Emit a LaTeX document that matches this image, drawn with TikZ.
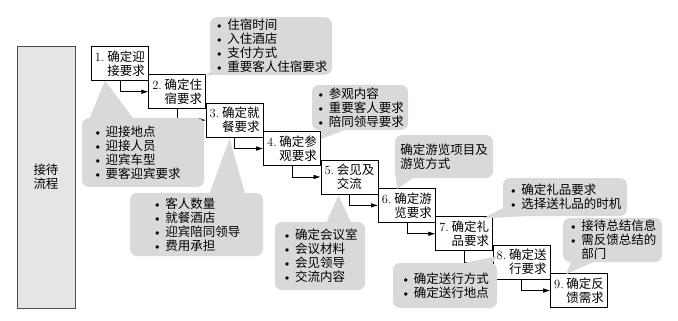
\documentclass[tikz,border=0pt]{standalone}
\usepackage{fontspec}
\newfontfamily\cjk{Noto Sans CJK SC}
\usetikzlibrary{arrows.meta,calc}
\definecolor{callgray}{gray}{0.85}
\definecolor{flowgray}{gray}{0.9}
\newcommand\dotitem{{\rmfamily\textbullet}\hspace{3pt}}
\tikzset{
    stepbox/.style={draw, fill=white, line width=0.7pt, minimum width=57pt, minimum height=34pt,
        inner sep=1pt, anchor=north west, font=\cjk\fontsize{12.5}{14}\selectfont},
    callbox/.style={fill=callgray, rounded corners=7pt, align=left, inner sep=2pt,
        font=\cjk\fontsize{12.5}{14}\selectfont},
    flowbox/.style={draw=black!70, fill=flowgray, line width=0.7pt, align=center,
        font=\cjk\fontsize{12.5}{14}\selectfont},
    steparrow/.style={-{Latex[length=7pt,width=4.5pt]}, line width=0.6pt},
}
\begin{document}
\begin{tikzpicture}[x=1pt,y=-1pt]
                    \useasboundingbox (0,0) rectangle (678,321);
                    \node[flowbox, minimum width=58pt, minimum height=262pt] (flow) at (46,177) {接待\\流程};
                    \foreach \i/\al/\la/\lb in {1/right/确定迎/接要求, 2/right/确定住/宿要求, 3/right/确定就/餐要求,
                        4/right/确定参/观要求, 5/center/会见及/交流, 6/right/确定游/览要求,
                        7/right/确定礼/品要求, 8/right/确定送/行要求, 9/right/确定反/馈需求}{
                        \node[stepbox, align/.expanded=\al] (s\i) at ({91+(\i-1)*57.4},{46+(\i-1)*28.4}) {\textrm{\i.}\ \la\\\lb};
                    }
                    \foreach \i [evaluate=\i as \j using int(\i+1)] in {1,...,8}{
                        \draw[steparrow] (s\i.south) |- (s\j.west);
                    }
                    \node[callbox, minimum width=122pt, minimum height=69pt, text width=100pt] (c1) at (143,152.5)
                        {\dotitem 迎接地点\\\dotitem 迎接人员\\\dotitem 迎宾车型\\\dotitem 要客迎宾要求};
                    \node[callbox, minimum width=122pt, minimum height=54pt] (c2) at (271,46)
                        {\dotitem 住宿时间\\\dotitem 入住酒店\\\dotitem 支付方式\\\dotitem 重要客人住宿要求};
                    \node[callbox, minimum width=133pt, minimum height=63pt] (c3) at (196.5,224.5)
                        {\dotitem 客人数量\\\dotitem 就餐酒店\\\dotitem 迎宾陪同领导\\\dotitem 费用承担};
                    \node[callbox, minimum width=96pt, minimum height=45pt] (c4) at (360,107.5)
                        {\dotitem 参观内容\\\dotitem 重要客人要求\\\dotitem 陪同领导要求};
                    \node[callbox, minimum width=90pt, minimum height=68pt] (c5) at (320,256)
                        {\dotitem 确定会议室\\\dotitem 会议材料\\\dotitem 会见领导\\\dotitem 交流内容};
                    \node[callbox, minimum width=98pt, minimum height=43pt] (c6) at (444,156.5)
                        {确定游览项目及\\游览方式};
                    \node[callbox, minimum width=124pt, minimum height=38pt] (c7) at (565,197)
                        {\dotitem 确定礼品要求\\\dotitem 选择送礼品的时机};
                    \node[callbox, minimum width=104pt, minimum height=45pt] (c8) at (445,285.5)
                        {\dotitem 确定送行方式\\\dotitem 确定送行地点};
                    \node[callbox, minimum width=99pt, minimum height=44pt] (c9) at (612.5,240)
                        {\dotitem 接待总结信息\\\dotitem 需反馈总结的\\\phantom{\dotitem}部门};
                    \fill[callgray] ($(c1.north west)+(8,0)$) -- ($(s1.south west)+(14,0)$) -- ($(c1.north west)+(51,0)$) -- cycle;
                    \fill[callgray] ($(c2.south west)+(1,-3)$) -- ($(s2.north east)+(-2,1)$) -- ($(c2.south west)+(18,0)$) -- cycle;
                    \fill[callgray] ($(c3.north west)+(80,0)$) -- ($(s3.south)+(-5,1)$) -- ($(c3.north west)+(115,0)$) -- cycle;
                    \fill[callgray] ($(c4.south west)+(10,0)$) -- ($(s4.north east)+(0,8)$) -- ($(c4.south west)+(32,0)$) -- cycle;
                    \fill[callgray] ($(c5.north west)+(52,0)$) -- ($(s5.south)+(-11,1)$) -- ($(c5.north west)+(76,0)$) -- cycle;
                    \fill[callgray] ($(c6.south west)+(0,-8)$) -- ($(s6.north west)+(19,1)$) -- ($(c6.south west)+(18,0)$) -- cycle;
                    \fill[callgray] ($(c7.south west)+(0,-8)$) -- ($(s7.north east)+(-10,2)$) -- ($(c7.south west)+(20,0)$) -- cycle;
                    \fill[callgray] ($(c8.north west)+(72,0)$) -- ($(s8.west)+(4,-6)$) -- ($(c8.north west)+(100,0)$) -- cycle;
                    \fill[callgray] ($(c9.south west)+(8,0)$) -- ($(s9.north west)+(16,1)$) -- ($(c9.south west)+(30,0)$) -- cycle;
                \end{tikzpicture}
\end{document}
